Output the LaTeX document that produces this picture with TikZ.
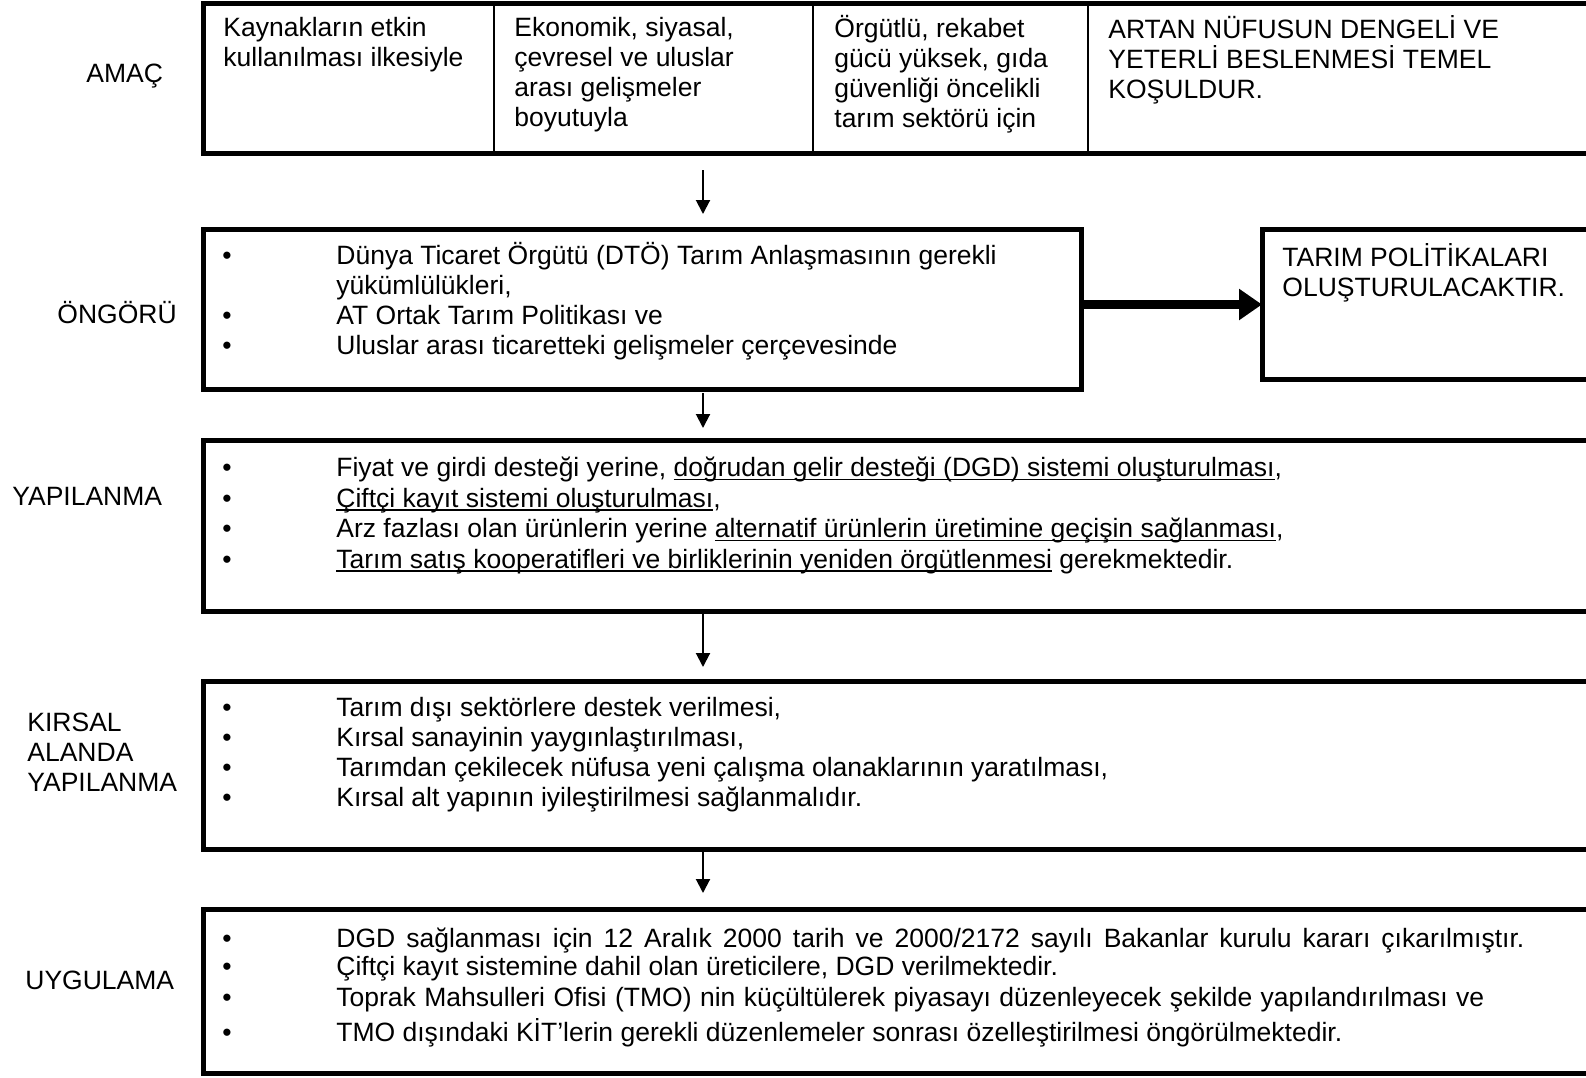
\documentclass[tikz,border=0pt]{standalone}
\usepackage{fontspec}
\setmainfont{Liberation Sans}
\usetikzlibrary{arrows.meta}

\newcommand{\diafont}{\fontsize{13.25pt}{15pt}\selectfont\lineskiplimit=-20pt}
\newcommand{\undl}[1]{\setbox0\hbox{#1}\rlap{\rule[-1.9pt]{\wd0}{0.85pt}}\box0\relax}

\tikzset{
  box/.style={draw, line width=2.5pt, outer sep=0pt, inner sep=0pt, anchor=north west},
  lbl/.style={anchor=base west, inner sep=0pt, font=\diafont},
  txt/.style={anchor=north west, inner sep=0pt, align=left, font=\diafont},
  dot/.style={anchor=base, inner sep=0pt, font=\diafont},
  arr/.style={line width=1pt, -{Triangle[length=7pt,width=7pt]}},
  bigarr/.style={line width=4.5pt, -{Triangle[length=11.5pt,width=15pt]}}
}

\begin{document}
\begin{tikzpicture}[x=0.5pt, y=-0.5pt]
\useasboundingbox (0,0) rectangle (1586,1077);
\clip (0,0) rectangle (1586,1077);

% boxes
\node[box, minimum width=708.25pt, minimum height=75pt] (amac) at (203.5,3) {};
\node[box, minimum width=438.75pt, minimum height=80pt] (ongoru) at (203.5,229) {};
\node[box, minimum width=179pt, minimum height=75pt] (tarim) at (1262,229.5) {};
\node[box, minimum width=708.25pt, minimum height=85.5pt] (yap) at (203.5,440) {};
\node[box, minimum width=708.25pt, minimum height=84pt] (kirsal) at (203.5,681) {};
\node[box, minimum width=708.25pt, minimum height=82.25pt] (uyg) at (203.5,909) {};

% amac columns
\foreach \x in {494,813,1088}{
	\draw[line width=1.3pt] (\x,0 |- amac.north) -- (\x,0 |- amac.south);
}
\node[txt] (col-1) at (223,15) {\strut Kaynakların etkin\\kullanılması ilkesiyle};
\node[txt] (col-2) at (514,15) {\strut Ekonomik, siyasal,\\çevresel ve uluslar\\arası gelişmeler\\boyutuyla};
\node[txt] (col-3) at (834,15) {\strut Örgütlü, rekabet\\gücü yüksek, gıda\\güvenliği öncelikli\\tarım sektörü için};
\node[txt] (col-4) at (1108,15) {\strut ARTAN NÜFUSUN DENGELİ VE\\YETERLİ BESLENMESİ TEMEL\\KOŞULDUR.};

% left labels
\node[lbl] (l-amac) at (86,82) {AMAÇ};
\node[lbl] (l-ongoru) at (57,323) {ÖNGÖRÜ};
\node[lbl] (l-yap) at (12,505) {YAPILANMA};
\node[txt] (l-kirsal) at (27,710) {\strut KIRSAL\\ALANDA\\YAPILANMA};
\node[lbl] (l-uyg) at (25,989) {UYGULAMA};

% ongoru
\foreach \t [count=\i] in {{Dünya Ticaret Örgütü (DTÖ) Tarım Anlaşmasının gerekli}, {yükümlülükleri,}, {AT Ortak Tarım Politikası ve}, {Uluslar arası ticaretteki gelişmeler çerçevesinde}}{
	\node[lbl] (ong-\i) at (336, 234+30*\i) {\t};
}
\foreach \i in {1,3,4}{
	\node[dot] (ongb-\i) at (227, 234+30*\i) {•};
}
\node[txt] (tarim-t) at (1282,243) {\strut TARIM POLİTİKALARI\\OLUŞTURULACAKTIR.};

% yapilanma
\foreach \t [count=\i] in {{Fiyat ve girdi desteği yerine, \undl{doğrudan gelir desteği (DGD) sistemi oluşturulması},}, {\undl{Çiftçi kayıt sistemi oluşturulması},}, {Arz fazlası olan ürünlerin yerine \undl{alternatif ürünlerin üretimine geçişin sağlanması},}, {\undl{Tarım satış kooperatifleri ve birliklerinin yeniden örgütlenmesi} gerekmektedir.}}{
	\node[dot] (yapb-\i) at (227, 446+30.5*\i) {•};
	\node[lbl] (yap-\i) at (336, 446+30.5*\i) {\t};
}

% kirsal alanda yapilanma
\foreach \t [count=\i] in {{Tarım dışı sektörlere destek verilmesi,}, {Kırsal sanayinin yaygınlaştırılması,}, {Tarımdan çekilecek nüfusa yeni çalışma olanaklarının yaratılması,}, {Kırsal alt yapının iyileştirilmesi sağlanmalıdır.}}{
	\node[dot] (kirb-\i) at (227, 686+30*\i) {•};
	\node[lbl] (kir-\i) at (336, 686+30*\i) {\t};
}

% uygulama
\foreach \y/\t [count=\i] in {947/{\makebox[594pt][s]{DGD sağlanması için 12 Aralık 2000 tarih ve 2000/2172 sayılı Bakanlar kurulu kararı çıkarılmıştır.}}, 975/{Çiftçi kayıt sistemine dahil olan üreticilere, DGD verilmektedir.}, 1006/{\makebox[574pt][s]{Toprak Mahsulleri Ofisi (TMO) nin küçültülerek piyasayı düzenleyecek şekilde yapılandırılması ve}}, 1041/{TMO dışındaki KİT’lerin gerekli düzenlemeler sonrası özelleştirilmesi öngörülmektedir.}}{
	\node[dot] (uygb-\i) at (227, \y) {•};
	\node[lbl] (uyg-\i) at (336, \y) {\t};
}

% arrows
\coordinate (ax) at (703,0);
\draw[arr, shorten <=8.5pt, shorten >=7.5pt] (amac.south -| ax) -- (ongoru.north -| ax);
\draw[arr, shorten <=2pt, shorten >=6pt] (ongoru.south -| ax) -- (yap.north -| ax);
\draw[arr, shorten >=7pt] (yap.south -| ax) -- (kirsal.north -| ax);
\draw[arr, shorten >=8pt] (kirsal.south -| ax) -- (uyg.north -| ax);
\draw[bigarr] (ongoru.east |- tarim.west) -- (tarim.west);

\end{tikzpicture}
\end{document}
